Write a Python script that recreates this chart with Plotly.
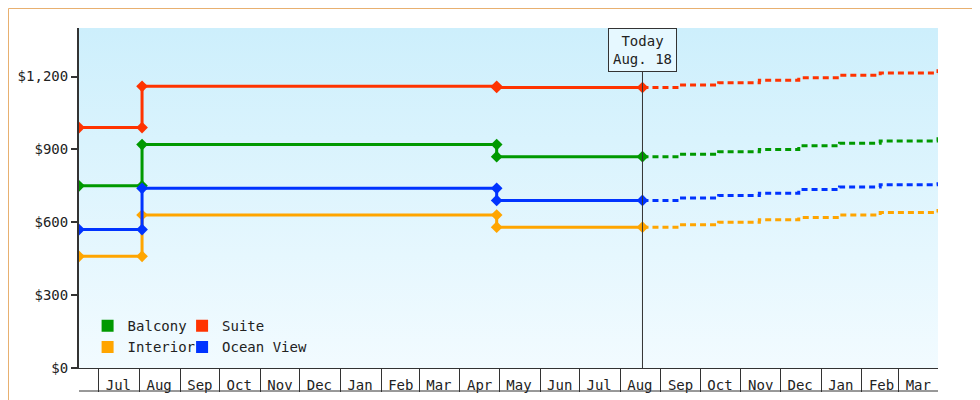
import plotly.graph_objects as go

# observed price history (change points)
hist_dates = ["2023-06-16", "2023-08-03", "2023-08-03", "2024-04-29", "2024-04-29", "2024-08-18"]
balcony = [750, 750, 920, 920, 870, 870]
suite = [990, 990, 1160, 1160, 1155, 1155]
interior = [460, 460, 630, 630, 580, 580]
ocean = [570, 570, 740, 740, 690, 690]

# forecast
fc_dates = ["2024-08-18", "2024-09-15", "2024-10-15", "2024-11-15", "2024-12-15",
            "2025-01-15", "2025-02-15", "2025-03-31"]
balcony_fc = [870, 880, 890, 900, 915, 925, 935, 950]
suite_fc = [1155, 1165, 1175, 1185, 1195, 1205, 1215, 1230]
interior_fc = [580, 590, 600, 610, 620, 630, 640, 655]
ocean_fc = [690, 700, 710, 720, 735, 745, 755, 765]

series = [("Balcony", balcony, balcony_fc, "#009900", "legend"),
          ("Interior", interior, interior_fc, "#ffa500", "legend"),
          ("Suite", suite, suite_fc, "#ff3300", "legend2"),
          ("Ocean View", ocean, ocean_fc, "#0033ff", "legend2")]

month_starts = ["2023-07-01", "2023-08-01", "2023-09-01", "2023-10-01", "2023-11-01",
                "2023-12-01", "2024-01-01", "2024-02-01", "2024-03-01", "2024-04-01",
                "2024-05-01", "2024-06-01", "2024-07-01", "2024-08-01", "2024-09-01",
                "2024-10-01", "2024-11-01", "2024-12-01", "2025-01-01", "2025-02-01",
                "2025-03-01"]
month_mids = [d[:8] + "16" for d in month_starts]
month_labels = ["Jul", "Aug", "Sep", "Oct", "Nov", "Dec", "Jan", "Feb", "Mar", "Apr", "May",
                "Jun", "Jul", "Aug", "Sep", "Oct", "Nov", "Dec", "Jan", "Feb", "Mar"]
today = "2024-08-18"
x0, x1 = "2023-06-16", "2025-03-31"

fig = go.Figure()

# gradient background
fig.add_trace(go.Scatter(x=[x0, x1, x1, x0, x0], y=[0, 0, 1400, 1400, 0], mode="none",
                         fill="toself", hoverinfo="skip", showlegend=False,
                         fillgradient=dict(type="vertical",
                                           colorscale=[[0, "#f2fbff"], [1, "#cdeffc"]])))

for name, hist, fc, color, leg in series:
    fig.add_trace(go.Scatter(x=hist_dates, y=hist, mode="lines+markers", showlegend=False,
                             line=dict(color=color, width=3),
                             marker=dict(color=color, size=9, symbol="diamond")))
    fig.add_trace(go.Scatter(x=fc_dates, y=fc, mode="lines", showlegend=False,
                             line=dict(color=color, width=3, dash="6px,4px", shape="hv")))
    fig.add_trace(go.Scatter(x=[None], y=[None], mode="markers", name=name, legend=leg,
                             marker=dict(color=color, size=12, symbol="square")))

W, H = 980, 400
ml, mr, mt, mb = 71, 50, 20, 40
pw, ph = W - ml - mr, H - mt - mb

legend_style = dict(yanchor="top", xanchor="left", bgcolor="rgba(0,0,0,0)",
                    itemsizing="constant", tracegroupgap=0, font=dict(size=14),
                    itemwidth=30)

fig.update_layout(
    width=W, height=H, margin=dict(l=ml, r=mr, t=mt, b=mb, autoexpand=False),
    paper_bgcolor="white", plot_bgcolor="white",
    font=dict(family="DejaVu Sans Mono", size=14, color="#222"),
    legend=dict(x=0.01, y=0.17, **legend_style),
    legend2=dict(x=0.12, y=0.17, **legend_style),
    xaxis=dict(range=[x0, x1], type="date", tickvals=month_mids, ticktext=month_labels,
               ticks="", ticklabelstandoff=4, showgrid=False, showline=True,
               linecolor="#333", linewidth=1, zeroline=False, automargin=False,
               minor=dict(tickvals=month_starts, ticks="outside", ticklen=23,
                          tickcolor="#333", tickwidth=1, showgrid=False)),
    yaxis=dict(range=[0, 1400], tickvals=[0, 300, 600, 900, 1200], tickformat="$,",
               ticks="outside", ticklen=6, tickwidth=2, tickcolor="#333",
               showline=True, linewidth=2, linecolor="#333", showgrid=False,
               zeroline=False, automargin=False),
    shapes=[
        dict(type="line", xref="x", yref="y", x0=today, x1=today, y0=0, y1=1250,
             line=dict(color="#333", width=1)),
        dict(type="line", xref="paper", yref="paper", x0=0, x1=1, y0=-23 / ph, y1=-23 / ph,
             line=dict(color="#333", width=1)),
        dict(type="rect", xref="paper", yref="paper", x0=-(ml - 0.5) / pw, x1=(pw + mr - 1) / pw,
             y0=-(mb - 0.5) / ph, y1=(ph + mt - 0.5) / ph, line=dict(color="#e8b070", width=1)),
    ],
    annotations=[dict(x=today, y=1, xref="x", yref="paper", yanchor="top",
                      text="Today<br>Aug. 18", showarrow=False, bgcolor="#e6f8ff",
                      bordercolor="#333", borderwidth=1, borderpad=4,
                      font=dict(size=14, color="#222"))],
)

fig.write_html("out.html")
